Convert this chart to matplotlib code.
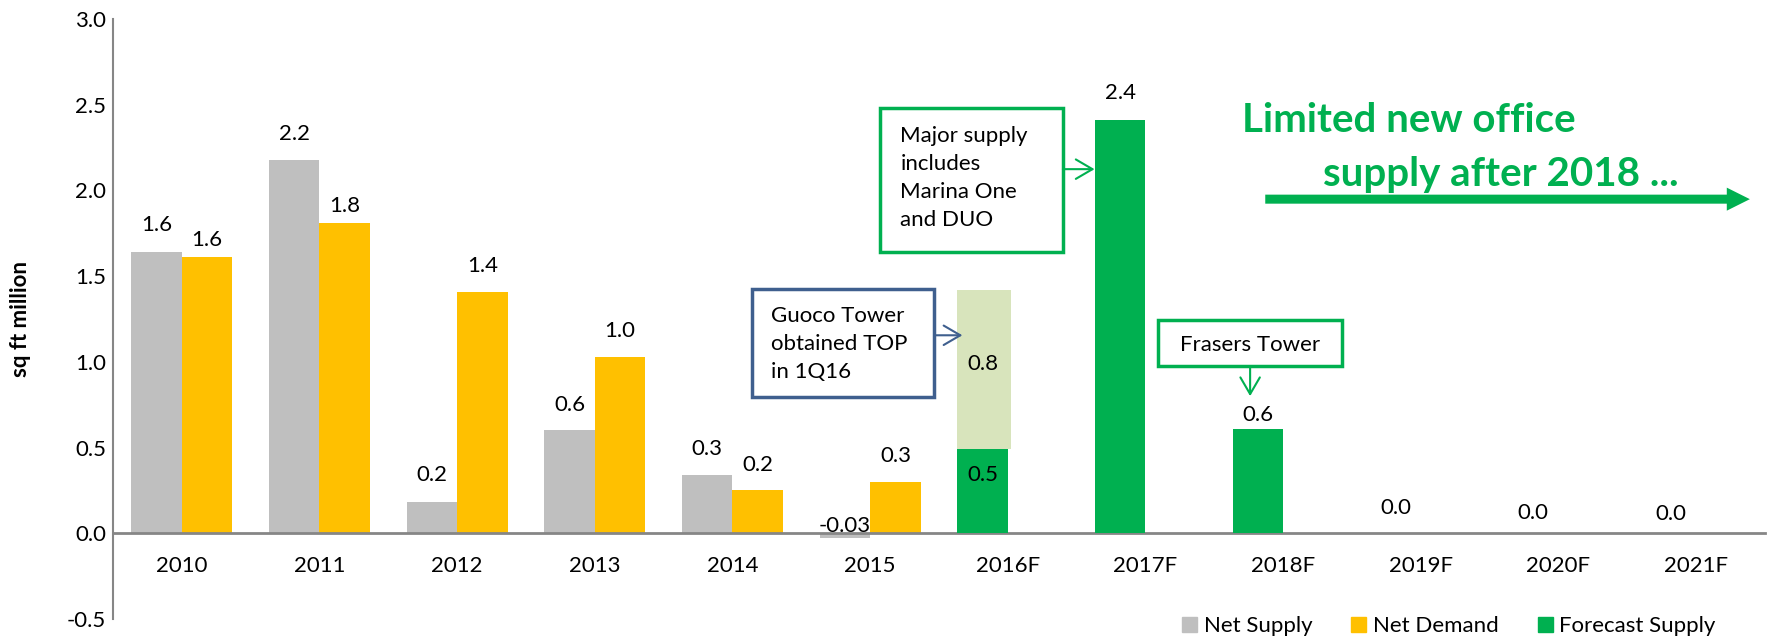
import matplotlib.pyplot as plt
from matplotlib.patches import Rectangle, Patch
import numpy as np

plt.rcParams['font.family'] = ['Lato', 'DejaVu Sans']

years = ['2010', '2011', '2012', '2013', '2014', '2015',
         '2016F', '2017F', '2018F', '2019F', '2020F', '2021F']
net_supply = [1.64, 2.18, 0.18, 0.60, 0.34, -0.03]
net_demand = [1.61, 1.81, 1.41, 1.03, 0.25, 0.30]
forecast_supply = [0.49, 2.41, 0.61, 0.0, 0.0, 0.0]
guoco_tower = 0.93   # shaded block sitting on the 2016F bar

supply_labels = ['1.6', '2.2', '0.2', '0.6', '0.3', '-0.03']
demand_labels = ['1.6', '1.8', '1.4', '1.0', '0.2', '0.3']
forecast_labels = ['0.5', '2.4', '0.6', '0.0', '0.0', '0.0']
guoco_label = '0.8'

# label heights above the bar tops (layout only)
supply_off = [0.16, 0.15, 0.16, 0.15, 0.15, 0.07]
demand_off = [0.10, 0.10, 0.15, 0.15, 0.15, 0.15]
forecast_off = [-0.15, 0.16, 0.08, 0.15, 0.12, 0.11]

GREY = '#BFBFBF'
YELLOW = '#FFC000'
GREEN = '#00B050'
LIGHT = '#D8E4BC'
BLUE = '#3F5F8E'
AXIS = '#868686'

fig = plt.figure(figsize=(17.68, 6.41), dpi=100)
ax = fig.add_axes([0.0639, 0.0343, 0.9344, 0.9361])

ax.spines['top'].set_visible(False)
ax.spines['right'].set_visible(False)
ax.spines['left'].set_color(AXIS)
ax.spines['left'].set_linewidth(1.5)
ax.spines['bottom'].set_position(('data', 0))
ax.spines['bottom'].set_color(AXIS)
ax.spines['bottom'].set_linewidth(2)

w = 0.367
hist = np.arange(len(net_supply))
fut = np.arange(len(net_supply), len(years))

ax.bar(hist - w / 2, net_supply, w, color=GREY, zorder=2)
ax.bar(hist + w / 2, net_demand, w, color=YELLOW, zorder=2)
ax.bar(fut - w / 2, forecast_supply, w, color=GREEN, zorder=3)
ax.bar(fut[0] - w / 2 + 0.01, guoco_tower, w + 0.02, bottom=forecast_supply[0],
       color=LIGHT, zorder=2)

fs = 16
for x, v, t, o in zip(hist - w / 2, net_supply, supply_labels, supply_off):
    ax.text(x, v + o, t, ha='center', va='center', fontsize=fs)
for x, v, t, o in zip(hist + w / 2, net_demand, demand_labels, demand_off):
    ax.text(x, v + o, t, ha='center', va='center', fontsize=fs)
for x, v, t, o in zip(fut - w / 2, forecast_supply, forecast_labels, forecast_off):
    ax.text(x, v + o, t, ha='center', va='center', fontsize=fs, zorder=5)
ax.text(fut[0] - w / 2, forecast_supply[0] + 0.50, guoco_label,
        ha='center', va='center', fontsize=fs, zorder=5)

ax.set_xlim(-0.5, 11.5)
ax.set_ylim(-0.5, 3.0)
ax.set_xticks(np.arange(len(years)))
ax.set_xticklabels(years)
yt = np.arange(-0.5, 3.01, 0.5)
ax.set_yticks(yt)
ax.set_yticklabels([f'{v:.1f}' for v in yt])
ax.tick_params(axis='x', length=0, pad=16, labelsize=fs)
ax.tick_params(axis='y', length=0, pad=5, labelsize=fs)
ax.set_ylabel('sq ft million', fontsize=fs, fontweight='bold', va='center')
ax.yaxis.set_label_coords(-0.056, 0.5)

# callout boxes
ax.add_patch(Rectangle((5.07, 1.638), 1.33, 0.845, fill=False,
                       edgecolor=GREEN, lw=2.5, zorder=4))
ax.text(5.22, 2.07, 'Major supply\nincludes\nMarina One\nand DUO',
        ha='left', va='center', fontsize=fs, linespacing=1.5, zorder=5)
ax.annotate('', xy=(6.63, 2.124), xytext=(6.40, 2.124),
            arrowprops=dict(arrowstyle='->,head_length=0.6,head_width=0.35',
                            color=GREEN, lw=1.5, mutation_scale=20,
                            shrinkA=0, shrinkB=0))

ax.add_patch(Rectangle((4.14, 0.796), 1.326, 0.629, fill=False,
                       edgecolor=BLUE, lw=2.5, zorder=4))
ax.text(4.28, 1.105, 'Guoco Tower\nobtained TOP\nin 1Q16',
        ha='left', va='center', fontsize=fs, linespacing=1.5, zorder=5)
ax.annotate('', xy=(5.67, 1.155), xytext=(5.466, 1.155),
            arrowprops=dict(arrowstyle='->,head_length=0.6,head_width=0.35',
                            color=BLUE, lw=1.5, mutation_scale=20,
                            shrinkA=0, shrinkB=0))

ax.add_patch(Rectangle((7.09, 0.974), 1.34, 0.272, fill=False,
                       edgecolor=GREEN, lw=2.5, zorder=4))
ax.text(7.25, 1.10, 'Frasers Tower', ha='left', va='center', fontsize=fs, zorder=5)
ax.annotate('', xy=(7.76, 0.80), xytext=(7.76, 0.974),
            arrowprops=dict(arrowstyle='->,head_length=0.6,head_width=0.35',
                            color=GREEN, lw=1.5, mutation_scale=20,
                            shrinkA=0, shrinkB=0))

# headline and big arrow
ax.text(7.70, 2.41, 'Limited new office', ha='left', va='center',
        fontsize=29, fontweight='bold', color=GREEN)
ax.text(8.29, 2.09, 'supply after 2018 ...', ha='left', va='center',
        fontsize=29, fontweight='bold', color=GREEN)
ax.annotate('', xy=(11.39, 1.949), xytext=(7.87, 1.949),
            arrowprops=dict(arrowstyle='simple,head_length=1.66,head_width=1.66,tail_width=0.65',
                            color=GREEN, lw=0, mutation_scale=10,
                            shrinkA=0, shrinkB=0))

handles = [Patch(color=GREY), Patch(color=YELLOW), Patch(color=GREEN)]
fig.legend(handles, ['Net Supply', 'Net Demand', 'Forecast Supply'],
           loc='center left', bbox_to_anchor=(1182 / 1768, 14.5 / 641),
           ncol=3, frameon=False, fontsize=fs, handlelength=0.68,
           handleheight=0.68, handletextpad=0.3, columnspacing=1.75,
           borderpad=0, borderaxespad=0)

plt.savefig('out.png', dpi=100)
